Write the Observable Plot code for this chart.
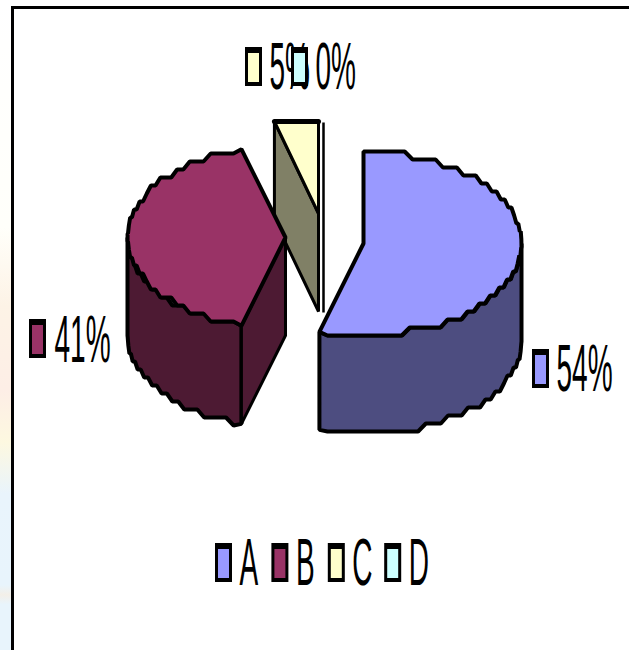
<!DOCTYPE html>
<html>
<head>
<meta charset="utf-8">
<script src="https://cdn.jsdelivr.net/npm/d3@7"></script>
<script src="https://cdn.jsdelivr.net/npm/@observablehq/plot@0.6"></script>
<style>
  html, body { margin: 0; padding: 0; width: 629px; height: 650px; overflow: hidden; background: #fff; }
  #backdrop { position: absolute; left: 0; top: 0; width: 14px; height: 650px;
    background: linear-gradient(180deg, #ffffff 0%, #fffffa 35%, #fdf3e6 47%, #fdeee6 60%, #fdf8e0 68%, #e9f4fc 76%, #e8f4fc 90%, #f3efe8 91.5%, #e8f4fc 93%, #e8f4fc 100%); }
  #chart { position: absolute; left: 0; top: 0; }
  #chart svg { background: transparent; display: block; }
</style>
</head>
<body>
<div id="backdrop"></div>
<div id="chart"></div>
<script>
// Pie shares, in slice order clockwise from twelve o'clock
const categories = ["A", "B", "C", "D"];
const shares = [54, 41, 5, 0];
const topColors = ["#9999ff", "#993366", "#ffffcc", "#ccffff"];
const sideColors = ["#4d4d80", "#4d1a33", "#808066", "#668080"];

// Projected pie: each exploded slice has its own apex on the top face
const rx = 158, ry = 92, depth = 98;
const apexes = [[363, 243], [285, 237], [318, 213], [323, 214]];
const lean = 1.8; // perspective shift of the slice boundaries, in degrees

// Rims are stepped vertically, as a low-resolution outline would be
const snap = (v, s) => Math.round(v / s) * s;
const rimPoint = (c, deg, dy = 0) => {
  const t = deg * Math.PI / 180;
  return { x: c[0] + rx * Math.sin(t), y: c[1] - ry * Math.cos(t) + dy };
};
function arc(c, a0, a1, dy = 0) {
  const n = Math.max(1, Math.round(Math.abs(a1 - a0) / 3));
  const out = [];
  for (let i = 0; i <= n; i++) {
    const p = rimPoint(c, a0 + (a1 - a0) * i / n, dy);
    const ends = i === 0 || i === n;
    out.push(ends ? p : { x: p.x, y: snap(p.y - c[1] + ry, 8) + c[1] - ry });
  }
  return out;
}

const polygon = (pts, fill, strokeWidth = 4) =>
  Plot.line(pts, { x: "x", y: "y", fill, stroke: "#000", strokeWidth, strokeLinejoin: "miter", curve: "linear-closed" });

// Slice angles from the cumulative shares
let running = 0;
const slices = shares.map((v, i) => {
  const a0 = running * 3.6;
  running += v;
  return { a0, a1: running * 3.6, c: apexes[i], top: topColors[i], side: sideColors[i] };
});
const [sA, sB, sC, sD] = slices;
const pieMarks = [];

// Slice C: cut face behind, then its wedge on top
{
  const c = sC.c, apex = { x: c[0], y: c[1] };
  const p0 = rimPoint(c, sC.a0 + lean);
  p0.y = c[1] - ry;
  const rim = { x: c[0], y: c[1] - ry };
  pieMarks.push(polygon([p0, { x: p0.x, y: p0.y + depth }, { x: c[0], y: c[1] + depth }, apex], sC.side, 3));
  pieMarks.push(polygon([apex, p0, rim], sC.top, 3));
  pieMarks.push(Plot.line([p0, rim], { x: "x", y: "y", stroke: "#000", strokeWidth: 5 }));
}

// Slice D has no angle, so it collapses to a single upright line
pieMarks.push(polygon([rimPoint(sD.c, sD.a0), { x: sD.c[0], y: sD.c[1] + depth }], "none", 2.5));

// Slice B: outer wall, cut face, top face
{
  const c = sB.c, apex = { x: c[0], y: c[1] };
  const from = sB.a0 + lean, to = sB.a1 + lean;
  const cut = rimPoint(c, from);
  pieMarks.push(polygon([...arc(c, from, 270), ...arc(c, 270, from, depth)], sB.side));
  pieMarks.push(polygon([cut, { x: cut.x, y: cut.y + depth }, { x: c[0], y: c[1] + depth }, apex], sB.side, 3));
  pieMarks.push(polygon([apex, ...arc(c, from, to)], sB.top));
}

// Slice A: outer wall, then top face
{
  const c = sA.c, apex = { x: c[0], y: c[1] };
  const to = sA.a1 + lean;
  pieMarks.push(polygon([...arc(c, 90, to), ...arc(c, to, 90, depth)], sA.side));
  pieMarks.push(polygon([apex, ...arc(c, 0, to)], sA.top));
}

// Condensed lettering: tall glyphs squeezed horizontally
const squeezed = (sx) => (index, scales, values, dimensions, context, next) => {
  const g = next(index, scales, values, dimensions, context);
  d3.select(g).selectAll("text").attr("transform", function () {
    return `${this.getAttribute("transform") || ""} scale(${sx},1)`;
  });
  return g;
};

// Swatch keys: a black plate with the colour inset, heavier along the top
function swatch(x, y, fill) {
  const r = [{ x1: x, x2: x + 17, y1: y, y2: y + 39 }];
  const inner = [{ x1: x + 3, x2: x + 14, y1: y + 6, y2: y + 35 }];
  return [
    Plot.rect(r, { x1: "x1", x2: "x2", y1: "y1", y2: "y2", fill: "#000" }),
    Plot.rect(inner, { x1: "x1", x2: "x2", y1: "y1", y2: "y2", fill })
  ];
}
const label = (text, x, y) =>
  Plot.text([{ text, x, y }], {
    x: "x", y: "y", text: "text", fill: "#000", textAnchor: "start", lineAnchor: "bottom",
    fontFamily: "Liberation Sans", fontSize: 66, render: squeezed(0.425)
  });

// Data labels placed around the pie
const dataLabelSpots = [[532, 349, 556, 390], [29, 319, 54, 361], [245, 47, 269, 88], [291, 47, 315, 88]];
const dataLabels = shares.flatMap((v, i) => {
  const [sx, sy, tx, ty] = dataLabelSpots[i];
  return [label(`${v}%`, tx, ty), ...swatch(sx, sy, topColors[i])];
});

// Legend row along the bottom
const legend = categories.flatMap((name, i) => {
  const sx = 215 + i * 56.4;
  return [...swatch(sx, 543, topColors[i]), label(name, sx + 24, 584)];
});

const chart = Plot.plot({
  width: 629,
  height: 650,
  margin: 0,
  x: { domain: [0, 629], range: [0, 629], axis: null },
  y: { domain: [0, 650], range: [0, 650], axis: null },
  marks: [
    Plot.rect([{ x1: 12, x2: 629, y1: 7, y2: 650 }], { x1: "x1", x2: "x2", y1: "y1", y2: "y2", fill: "#fff" }),
    Plot.ruleX([12], { y1: 6, y2: 650, stroke: "#000", strokeWidth: 3 }),
    Plot.ruleY([7], { x1: 11, x2: 629, stroke: "#000", strokeWidth: 3 }),
    ...pieMarks,
    ...dataLabels,
    ...legend
  ]
});
document.getElementById("chart").append(chart);
</script>
</body>
</html>
